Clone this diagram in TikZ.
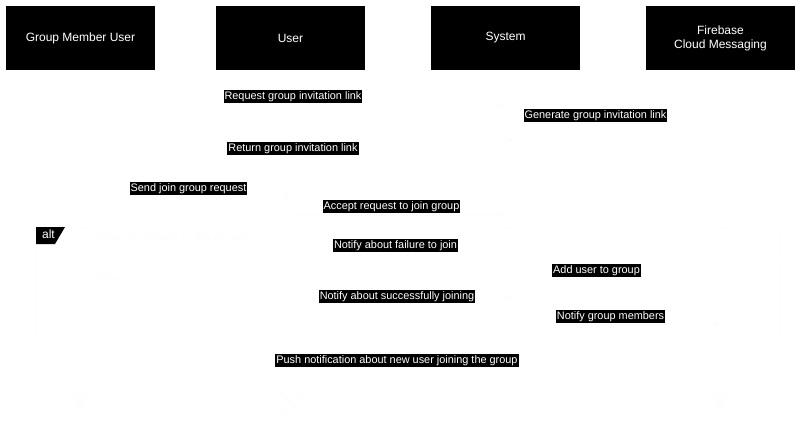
\documentclass[tikz,border=0pt]{standalone}
\usepackage{fontspec}
\setmainfont{Liberation Sans}
\usetikzlibrary{arrows.meta}
\definecolor{faint}{RGB}{253,253,253}
\begin{document}
\begin{tikzpicture}[x=1pt,y=-1pt,
  actor/.style={fill=black,text=white,minimum width=149pt,minimum height=64pt,inner sep=0pt,align=center,font=\fontsize{12}{14}\selectfont},
  msglabel/.style={fill=black,text=white,inner sep=1pt,font=\fontsize{10.9}{12}\selectfont},
  guard/.style={text=faint,font=\fontsize{10.9}{12}\selectfont\bfseries,anchor=west},
  lifeline/.style={draw=faint,dashed},
  call/.style={draw=faint,-{Triangle[length=6pt,width=6pt]}},
  reply/.style={draw=faint,dashed,-{Straight Barb[length=6pt,width=7pt]}},
  killmark/.style={draw=faint,line width=2pt}]
\useasboundingbox (0,0) rectangle (801,441);
% actors
\node[actor] (gmu) at (80.5,38) {Group Member User};
\node[actor] (usr) at (290.5,38) {User};
\node[actor] (sys) at (505.5,38) {System};
\node[actor] (fcm) at (720.5,38) {Firebase\\Cloud Messaging};
% lifeline ends
\coordinate (gmuE) at (80.5,403);
\coordinate (usrE) at (290.5,403);
\coordinate (sysE) at (505.5,403);
\coordinate (fcmE) at (720.5,403);
\draw[lifeline] (gmu.south) -- (gmuE);
\draw[lifeline] (usr.south) -- (usrE);
\draw[lifeline] (sys.south) -- (sysE);
\draw[lifeline] (fcm.south) -- (fcmE);
% destroy marks
\foreach \c in {gmuE,usrE,fcmE}{
  \draw[killmark] ([shift={(-10,-10)}]\c) -- ([shift={(10,10)}]\c);
  \draw[killmark] ([shift={(-10,10)}]\c) -- ([shift={(10,-10)}]\c);
}
% helper coordinates on lifelines
\coordinate (u1) at (290.5,105); \coordinate (s1) at (505.5,105);
\coordinate (s2a) at (505.5,123); \coordinate (s2b) at (505.5,140);
\coordinate (s3) at (505.5,157); \coordinate (u3) at (290.5,157);
\coordinate (g4) at (80.5,197); \coordinate (u4) at (290.5,197);
\coordinate (u5) at (290.5,215); \coordinate (s5) at (505.5,215);
\coordinate (s6) at (505.5,254); \coordinate (u6) at (290.5,254);
\coordinate (s7a) at (505.5,278); \coordinate (s7b) at (505.5,297);
\coordinate (s8) at (505.5,305); \coordinate (u8) at (290.5,305);
\coordinate (s9) at (505.5,324); \coordinate (f9) at (720.5,324);
\coordinate (f10) at (720.5,370); \coordinate (g10) at (80.5,370);
% messages
\draw[call] (u1) -- (s1);
\node[msglabel] (m1) at (293,96.5) {Request group invitation link};
\draw[call] (s2a) -| (665,131.5) |- (s2b);
\node[msglabel] (m2) at (595.5,115.5) {Generate group invitation link};
\draw[reply] (s3) -- (u3);
\node[msglabel] (m3) at (293,148.5) {Return group invitation link};
\draw[call] (g4) -- (u4);
\node[msglabel] (m4) at (188.5,188.5) {Send join group request};
\draw[call] (u5) -- (s5);
\node[msglabel] (m5) at (391.5,206.5) {Accept request to join group};
% alt frame
\draw[draw=faint] (36,227) rectangle (780,338);
\draw[draw=faint,dashed] (36,263) -- (780,263);
\fill (36,227) -- (65,227) -- (55,244) -- (36,244) -- cycle;
\node[text=white,font=\fontsize{12}{14}\selectfont,inner sep=0pt] (alt) at (48.5,234.5) {alt};
\node[guard] (g1) at (95,239) {[user is already in the group]};
\node[guard] (g2) at (95,280) {[else]};
\draw[reply] (s6) -- (u6);
\node[msglabel] (m6) at (395.5,245.5) {Notify about failure to join};
\draw[call] (s7a) -| (665,287.5) |- (s7b);
\node[msglabel] (m7) at (596.5,270.5) {Add user to group};
\draw[reply] (s8) -- (u8);
\node[msglabel] (m8) at (397,296.5) {Notify about successfully joining};
\draw[call] (s9) -- (f9);
\node[msglabel] (m9) at (610.5,316.5) {Notify group members};
% push
\draw[reply] (f10) -- (g10);
\node[msglabel] (m10) at (397,360.5) {Push notification about new user joining the group};
\end{tikzpicture}
\end{document}
